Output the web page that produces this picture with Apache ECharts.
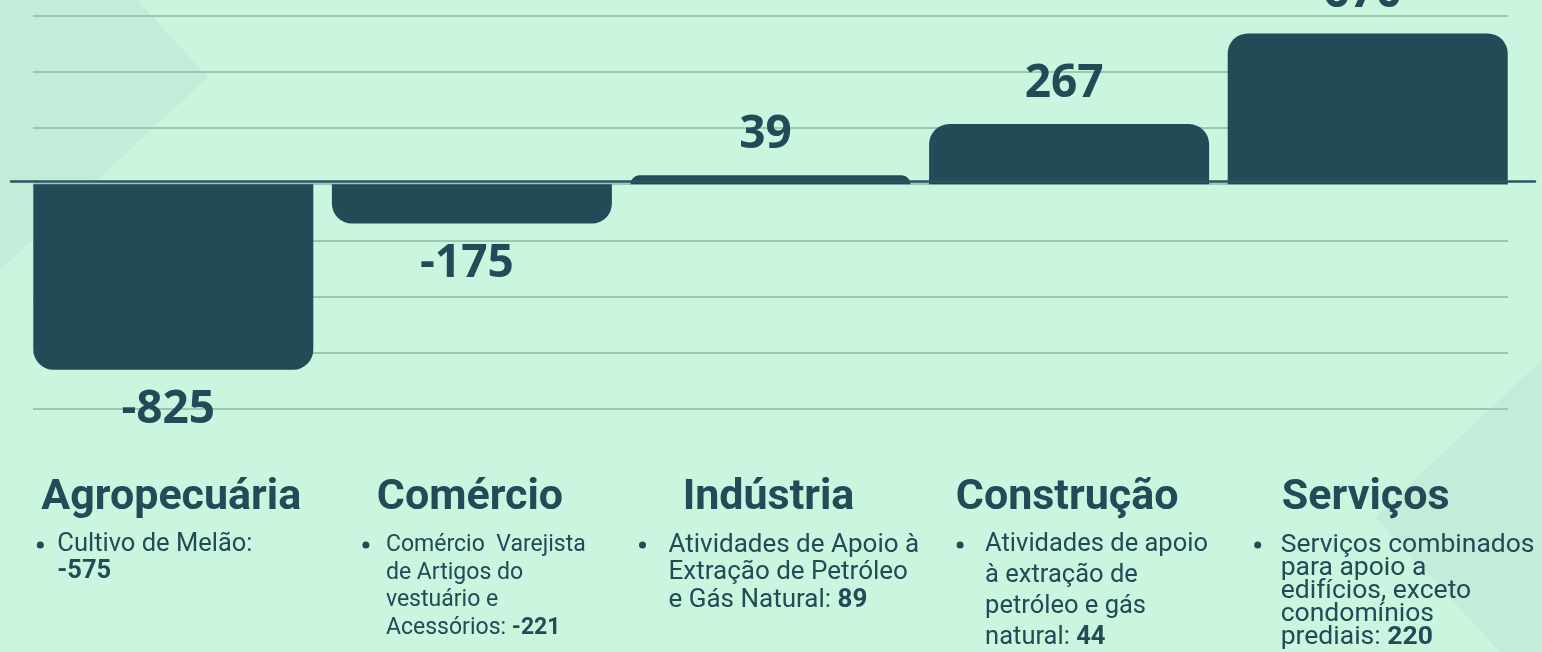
<!DOCTYPE html>
<html>
<head>
<meta charset="utf-8">
<script src="https://cdn.jsdelivr.net/npm/echarts@6/dist/echarts.min.js"></script>
<style>
    html, body { margin: 0; padding: 0; background: #caf5df; }
    #main { width: 1542px; height: 652px; }
</style>
</head>
<body>
<div id="main"></div>
<script>
// 各行业数据
var categories = ['Agropecuária', 'Comércio', 'Indústria', 'Construção', 'Serviços'];
var saldo = [-825, -175, 39, 267, 670];
var detailText = [
    'Cultivo de Melão:\n',
    'Comércio  Varejista\nde Artigos do\nvestuário e\nAcessórios: ',
    'Atividades de Apoio à\nExtração de Petróleo\ne Gás Natural: ',
    'Atividades de apoio\nà extração de\npetróleo e gás\nnatural: ',
    'Serviços combinados\npara apoio a\nedifícios, exceto\ncondomínios\nprediais: '
];
var detailValue = ['-575', '-221', '89', '44', '220'];
var yTicks = { min: -1000, max: 750, interval: 250 };

// 文字排版 (相对柱中心的偏移)
var colLayout = [
    { dx: -116, bx: -133, size: 25.5, lh: 27, sx: 1 },
    { dx: -86, bx: -106, size: 24.5, lh: 27.5, sx: 0.94 },
    { dx: -102, bx: -128, size: 26, lh: 27.5, sx: 1 },
    { dx: -84, bx: -109, size: 25.5, lh: 31, sx: 1 },
    { dx: -87, bx: -110, size: 26.5, lh: 23, sx: 1 }
];

var ink = '#234a57';
var chart = echarts.init(document.getElementById('main'));

var option = {
    backgroundColor: '#caf5df',
    animation: false,
    grid: [
        { left: 24, right: 25, top: 15.5, bottom: 243 },   // 柱子
        { left: 33, right: 34, top: 15.5, bottom: 243 },   // 网格线
        { left: 11, right: 7, top: 13, bottom: 245.5 }     // 零线
    ],
    xAxis: [
        { type: 'category', gridIndex: 0, data: categories, show: false },
        { type: 'category', gridIndex: 1, data: categories, show: false },
        {
            type: 'category', gridIndex: 2, data: categories, z: 10,
            axisLine: { show: true, onZero: true, lineStyle: { color: '#2b5561', width: 2.5 } },
            axisTick: { show: false }, axisLabel: { show: false }
        }
    ],
    yAxis: [0, 1, 2].map(function(g) {
        return {
            type: 'value', gridIndex: g,
            min: yTicks.min, max: yTicks.max, interval: yTicks.interval,
            axisLine: { show: false }, axisTick: { show: false }, axisLabel: { show: false },
            splitLine: { show: g === 1, lineStyle: { color: '#9cc7b3', width: 2 } }
        };
    }),
    series: [{
        type: 'bar',
        xAxisIndex: 0,
        yAxisIndex: 0,
        barWidth: 280,
        data: saldo.map(function(v) {
            return {
                value: v,
                itemStyle: { borderRadius: v >= 0 ? [20, 20, 0, 0] : [0, 0, 20, 20] },
                label: { position: v >= 0 ? 'top' : 'bottom', offset: [-5, 0] }
            };
        }),
        itemStyle: { color: ink },
        label: {
            show: true,
            distance: 17,
            color: ink,
            fontFamily: 'Open Sans',
            fontWeight: 'bold',
            fontSize: 46,
            lineHeight: 46
        }
    }]
};
chart.setOption(option);

// 背景装饰 + 类别标题 + 说明文字
var graphic = [
    { type: 'polygon', z: -10, silent: true, shape: { points: [[0, 0], [137, 0], [208, 77], [0, 270]] }, style: { fill: '#c3ecd9' } },
    { type: 'polygon', z: -10, silent: true, shape: { points: [[1542, 360], [1375, 517], [1500, 652], [1542, 652]] }, style: { fill: '#c3ecd9' } }
];
for (var i = 0; i < categories.length; i++) {
    var cx = chart.convertToPixel({ xAxisIndex: 0 }, categories[i]);
    var L = colLayout[i];
    graphic.push({
        type: 'text',
        x: cx - 2, y: 498,
        style: {
            text: categories[i], fill: ink, align: 'center', verticalAlign: 'middle',
            fontFamily: 'Roboto', fontWeight: 'bold', fontSize: 43
        }
    });
    graphic.push({
        type: 'circle',
        shape: { cx: cx + L.bx, cy: 545, r: 3.5 },
        style: { fill: ink }
    });
    graphic.push({
        type: 'text',
        x: cx + L.dx, y: 545 - L.lh / 2,
        scaleX: L.sx,
        style: {
            text: detailText[i] + '{b|' + detailValue[i] + '}',
            fill: ink, align: 'left', verticalAlign: 'top',
            fontFamily: 'Roboto', fontSize: L.size, lineHeight: L.lh,
            rich: {
                b: { fontFamily: 'Roboto', fontWeight: 'bold', fontSize: L.size, lineHeight: L.lh, fill: ink }
            }
        }
    });
}
chart.setOption({ graphic: graphic });
</script>
</body>
</html>
